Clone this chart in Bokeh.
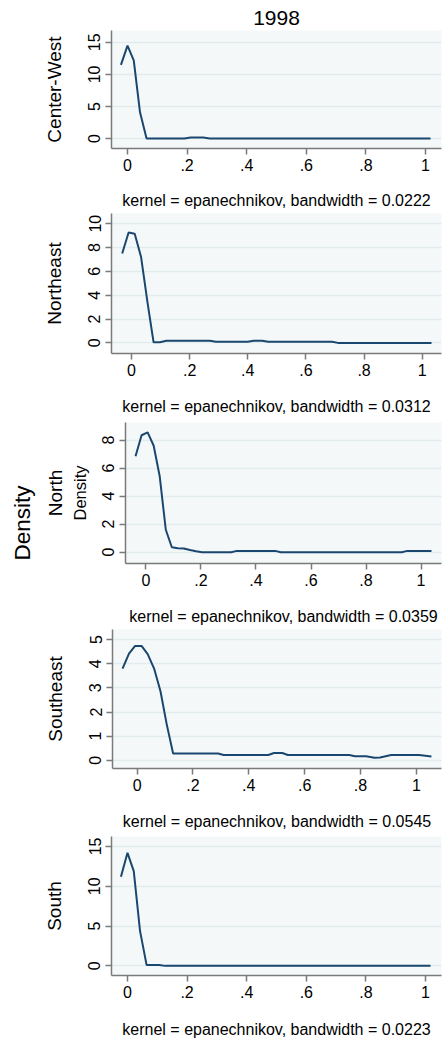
from bokeh.plotting import figure
from bokeh.models import Range1d, FixedTicker, Title, LinearAxis
from bokeh.embed import file_html
from bokeh.resources import INLINE

# ---------------- data ----------------
year_title = "1998"
overall_ylabel = "Density"
regions = ["Center-West", "Northeast", "North", "Southeast", "South"]
bandwidths = ["0.0222", "0.0312", "0.0359", "0.0545", "0.0223"]
x_tick_values = [0, 0.2, 0.4, 0.6, 0.8, 1]
x_tick_labels = ["0", ".2", ".4", ".6", ".8", "1"]

cw_x = [-0.022, 0.0, 0.021, 0.042, 0.064, 0.191, 0.212, 0.254, 0.276, 1.017]
cw_y = [11.5, 14.5, 12.2, 4.1, 0.0, 0.0, 0.15, 0.15, 0.0, 0.0]
cw_yticks = [0, 5, 10, 15]

ne_x = [-0.032, -0.010, 0.011, 0.033, 0.055, 0.076, 0.098, 0.120, 0.27, 0.29,
        0.40, 0.42, 0.45, 0.47, 0.69, 0.71, 1.032]
ne_y = [7.5, 9.25, 9.15, 7.2, 3.4, 0.05, 0.05, 0.18, 0.18, 0.09,
        0.09, 0.18, 0.18, 0.09, 0.09, 0.0, 0.0]
ne_yticks = [0, 2, 4, 6, 8, 10]

no_x = [-0.038, -0.016, 0.006, 0.028, 0.050, 0.072, 0.094, 0.116, 0.138, 0.160,
        0.182, 0.204, 0.31, 0.33, 0.47, 0.49, 0.93, 0.95, 1.038]
no_y = [6.85, 8.35, 8.55, 7.6, 5.4, 1.6, 0.35, 0.28, 0.26, 0.15,
        0.07, 0.0, 0.0, 0.09, 0.09, 0.0, 0.0, 0.09, 0.09]
no_yticks = [0, 2, 4, 6, 8]

se_x = [-0.052, -0.029, -0.007, 0.016, 0.038, 0.061, 0.084, 0.106, 0.129, 0.29,
        0.31, 0.47, 0.49, 0.52, 0.54, 0.76, 0.78, 0.82, 0.85, 0.87,
        0.91, 1.01, 1.054]
se_y = [3.8, 4.42, 4.74, 4.74, 4.4, 3.8, 2.85, 1.5, 0.28, 0.28,
        0.22, 0.22, 0.3, 0.3, 0.22, 0.22, 0.17, 0.17, 0.11, 0.12,
        0.22, 0.22, 0.16]
se_yticks = [0, 1, 2, 3, 4, 5]

so_x = [-0.022, 0.0, 0.021, 0.042, 0.064, 0.106, 0.127, 1.017]
so_y = [11.2, 14.2, 11.9, 4.4, 0.12, 0.12, 0.0, 0.0]
so_yticks = [0, 5, 10, 15]

series_x = [cw_x, ne_x, no_x, se_x, so_x]
series_y = [cw_y, ne_y, no_y, se_y, so_y]
series_yticks = [cw_yticks, ne_yticks, no_yticks, se_yticks, so_yticks]

# ---------------- layout / style ----------------
W = 444
FONT = "Liberation Sans"
LINE_COLOR = "#1a476f"
BG = "#f5f8f9"
GRID = "#e2ecef"
AXIS = "#7a7a7a"

# (fig height, top border, bottom border, left border, x range, y range)
panels = [
    (212, 30, 64, 111, (-0.0537, 1.0537), (-1.55, 16.85)),
    (205, 1, 64, 111, (-0.0688, 1.0664), (-0.89, 10.85)),
    (210, 5, 64, 125, (-0.0745, 1.0745), (-0.81, 9.26)),
    (205, 2, 64, 112, (-0.088, 1.090), (-0.34, 5.42)),
    (208, 4, 64, 111, (-0.0537, 1.0537), (-1.21, 16.25)),
]
RIGHT = 3

figs = []
for i, (h, top, bot, left, xr, yr) in enumerate(panels):
    p = figure(width=W, height=h, output_backend="svg", toolbar_location=None,
               title=None, x_range=Range1d(*xr), y_range=Range1d(*yr),
               min_border_left=left, min_border_right=RIGHT,
               min_border_top=top, min_border_bottom=bot)
    p.background_fill_color = BG
    p.border_fill_color = "white"
    p.outline_line_color = None

    p.line(series_x[i], series_y[i], line_color=LINE_COLOR, line_width=2)

    for ax in (p.xaxis[0], p.yaxis[0]):
        ax.axis_line_color = AXIS
        ax.axis_line_width = 1.5
        ax.major_tick_line_color = AXIS
        ax.major_tick_line_width = 1.5
        ax.major_tick_out = 6
        ax.major_tick_in = 0
        ax.minor_tick_line_color = None
        ax.major_label_text_font = FONT
        ax.major_label_text_font_size = "16px"
        ax.major_label_text_color = "black"
        ax.axis_label_text_font = FONT
        ax.axis_label_text_font_style = "normal"
        ax.axis_label_text_color = "black"

    xa = p.xaxis[0]
    xa.ticker = FixedTicker(ticks=x_tick_values)
    xa.major_label_overrides = {v: t for v, t in zip(x_tick_values, x_tick_labels)}
    xa.major_label_standoff = 4
    xa.axis_label = "kernel = epanechnikov, bandwidth = " + bandwidths[i]
    xa.axis_label_text_font_size = "16px"
    xa.axis_label_standoff = 18 if i == 0 else (20 if i == 4 else 19)

    ya = p.yaxis[0]
    ya.ticker = FixedTicker(ticks=series_yticks[i])
    ya.major_label_orientation = "vertical"
    ya.major_label_standoff = 5

    p.xgrid.visible = False
    p.ygrid.grid_line_color = GRID
    p.ygrid.grid_line_width = 1.5

    if i == 2:
        ya.axis_label = overall_ylabel
        ya.axis_label_text_font_size = "16.5px"
        ya.axis_label_standoff = 11
        p.add_layout(Title(text=regions[i], align="center", standoff=3,
                           text_font=FONT, text_font_size="19px",
                           text_font_style="normal", text_color="black"), "left")
        p.add_layout(Title(text=overall_ylabel, align="left", offset=3, standoff=10,
                           vertical_align="top",
                           text_font=FONT, text_font_size="22.5px",
                           text_font_style="normal", text_color="black"), "left")
    else:
        ya.axis_label = regions[i]
        ya.axis_label_text_font_size = "19px"
        ya.axis_label_standoff = 21

    if i == 0:
        top_axis = LinearAxis(ticker=FixedTicker(ticks=[]), axis_line_color=None,
                              major_tick_out=0, major_tick_in=0, major_label_standoff=0,
                              minor_tick_line_color=None, major_tick_line_color=None,
                              axis_label=year_title, axis_label_standoff=6,
                              axis_label_text_font=FONT, axis_label_text_font_size="21px",
                              axis_label_text_font_style="normal",
                              axis_label_text_color="black")
        p.add_layout(top_axis, "above")
    figs.append(p)

open("out.html", "w").write(file_html(figs, INLINE))
